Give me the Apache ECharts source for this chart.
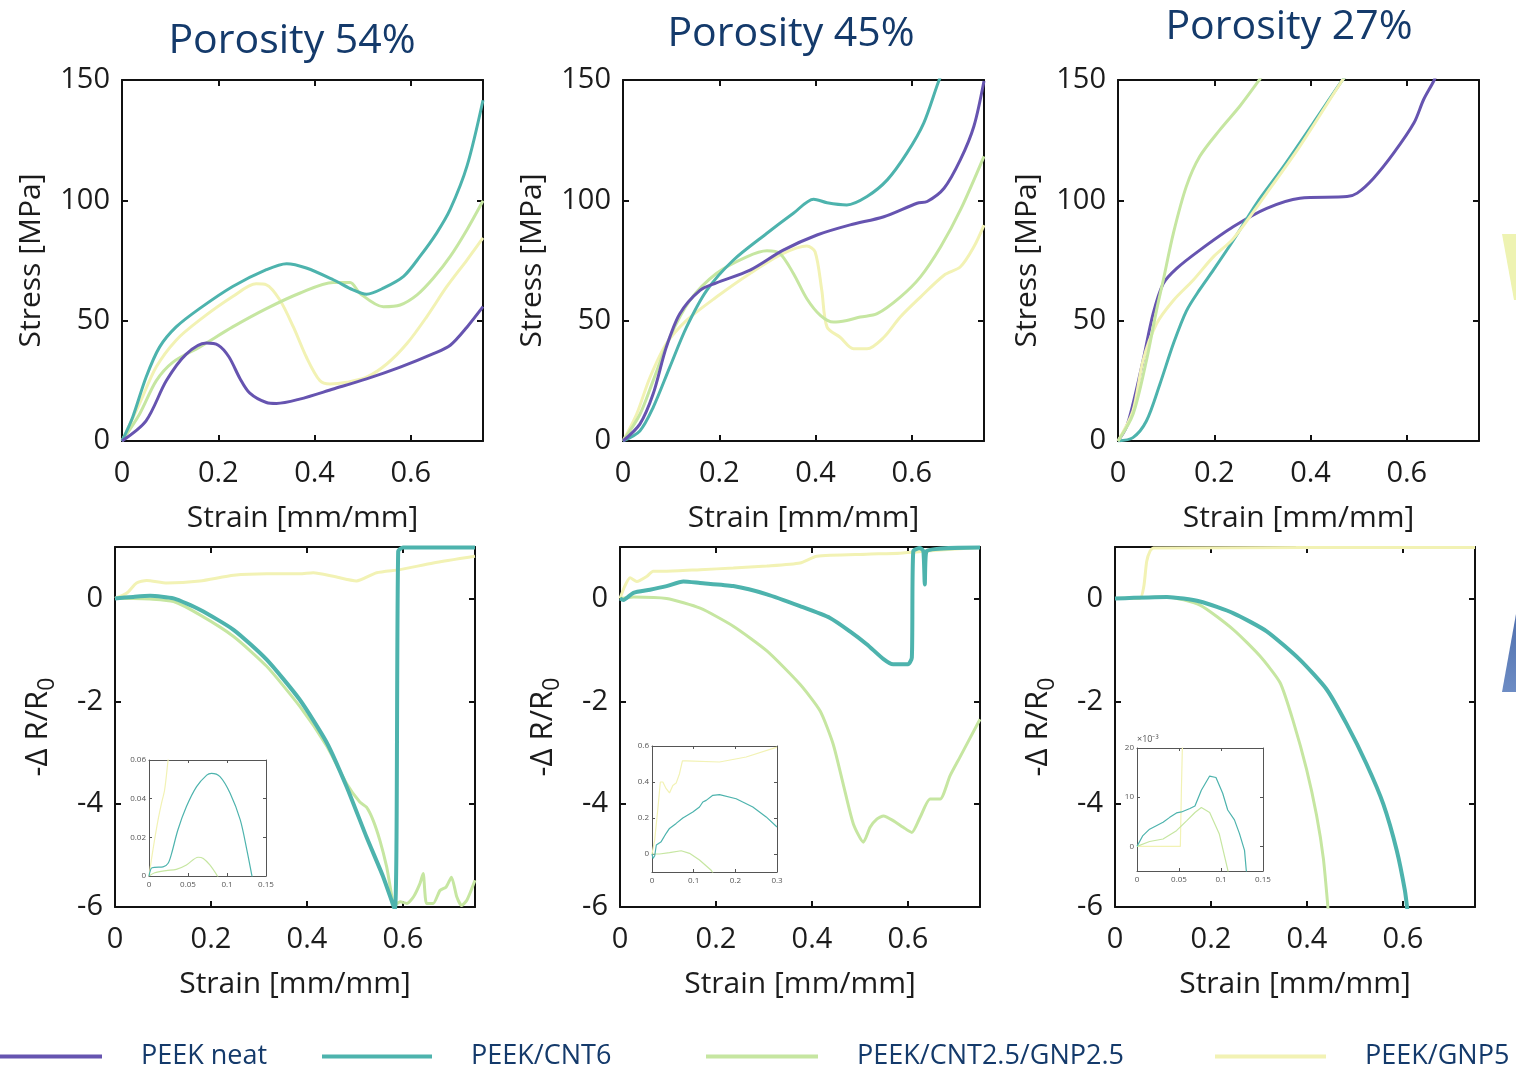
<!DOCTYPE html>
<html>
<head>
<meta charset="utf-8">
<script src="https://cdn.jsdelivr.net/npm/echarts@6/dist/echarts.min.js"></script>
<style>
  html, body { margin: 0; padding: 0; background: #fff; }
  #chart { width: 1516px; height: 1069px; }
</style>
</head>
<body>
<div id="chart"></div>
<script>
// series names
const names = ["PEEK neat", "PEEK/CNT6", "PEEK/CNT2.5/GNP2.5", "PEEK/GNP5"];
const colors = ["#6654b0", "#4db3ad", "#c6e6a1", "#f2f2b4"];
const titles = ["Porosity 54%", "Porosity 45%", "Porosity 27%"];

// stress-strain, porosity 54%  [strain, stress MPa]
const s54Neat = [[0,0],[0.05,8.4],[0.092,25],[0.133,36],[0.175,40.7],[0.2,39.8],[0.222,35],[0.245,26],[0.265,20],[0.3,16],[0.321,15.6],[0.369,17.4],[0.439,21.6],[0.508,25.8],[0.578,30.7],[0.647,36.3],[0.682,39.8],[0.717,47.4],[0.75,55.8]];
const s54Cnt = [[0,0],[0.022,9.8],[0.05,26.5],[0.078,39],[0.1125,47.4],[0.161,55],[0.23,64.2],[0.3,71.2],[0.342,73.7],[0.383,71.9],[0.439,67],[0.48,62.8],[0.508,61],[0.543,63.5],[0.585,68.4],[0.619,76.7],[0.654,86.5],[0.682,96.3],[0.717,114.4],[0.75,141.6]];
const s54Hyb = [[0,0],[0.036,11],[0.071,25],[0.106,32.8],[0.161,39],[0.23,47.4],[0.3,55],[0.369,61.4],[0.439,65.9],[0.474,65.9],[0.494,61.4],[0.543,55.8],[0.578,56.5],[0.613,60.7],[0.647,67.7],[0.682,76.7],[0.717,87.9],[0.75,99.8]];
const s54Gnp = [[0,0],[0.036,15.3],[0.071,30.7],[0.1125,41.9],[0.161,50.2],[0.23,60],[0.279,65.3],[0.3,64.9],[0.328,58.6],[0.356,47.4],[0.383,34.9],[0.411,25.1],[0.432,23.7],[0.467,24.4],[0.508,26.5],[0.55,32],[0.592,40.5],[0.633,51.6],[0.675,64.2],[0.717,75.3],[0.75,84.4]];

// stress-strain, porosity 45%
const s45Neat = [[0,0],[0.035,7],[0.0625,19.5],[0.09,39],[0.118,52.9],[0.16,62.6],[0.194,65.7],[0.264,71],[0.333,79.3],[0.403,85.6],[0.472,89.8],[0.542,93.2],[0.611,98.8],[0.632,99.5],[0.667,105],[0.701,116.9],[0.729,130.8],[0.75,149.6]];
const s45Cnt = [[0,0],[0.035,4.2],[0.0625,13.9],[0.097,30.6],[0.132,47.3],[0.174,62.6],[0.229,75.1],[0.299,86.3],[0.354,94.6],[0.396,100.5],[0.424,99],[0.465,98.1],[0.507,101.6],[0.549,108.5],[0.59,119.7],[0.625,132.2],[0.656,149.6],[0.67,156]];
const s45Hyb = [[0,0],[0.035,11],[0.0625,25],[0.097,43],[0.139,58.4],[0.194,69.6],[0.257,76.5],[0.299,79],[0.326,77.9],[0.354,69.6],[0.382,59.1],[0.41,52.2],[0.4375,49.4],[0.465,50.1],[0.493,51.5],[0.528,52.9],[0.576,59.8],[0.618,68.2],[0.66,80.7],[0.701,96],[0.75,118.3]];
const s45Gnp = [[0,0],[0.028,11],[0.056,26.4],[0.09,40.4],[0.132,50.1],[0.194,59.8],[0.264,69.6],[0.333,77.9],[0.382,81],[0.399,78.6],[0.413,62.6],[0.424,47.3],[0.451,43.1],[0.479,38.3],[0.507,38.3],[0.542,43.1],[0.576,51.5],[0.618,59.8],[0.667,68.9],[0.701,72.4],[0.729,80.7],[0.75,89.7]];

// stress-strain, porosity 27%
const s27Neat = [[0,0],[0.017,5.6],[0.031,15.3],[0.052,33.4],[0.073,52.9],[0.094,65.4],[0.122,71.7],[0.17,79.3],[0.24,89.1],[0.309,96.7],[0.378,100.9],[0.476,101.6],[0.497,103],[0.531,109.2],[0.573,119.7],[0.615,132.2],[0.635,141.9],[0.656,149.6],[0.665,154]];
const s27Cnt = [[0,0],[0.031,1.4],[0.059,8.3],[0.087,23.6],[0.115,40.4],[0.142,54],[0.17,63],[0.198,71],[0.24,83.5],[0.288,98.8],[0.344,114.1],[0.406,132.2],[0.465,149.6],[0.475,152]];
const s27Hyb = [[0,0],[0.031,11],[0.059,33.4],[0.08,54.3],[0.094,66.8],[0.115,86.3],[0.142,105.8],[0.17,118.3],[0.212,129.4],[0.253,139.1],[0.292,149.6],[0.3,152]];
const s27Gnp = [[0,0],[0.031,12.5],[0.052,33.4],[0.08,48.7],[0.115,58.4],[0.156,66.8],[0.198,76.5],[0.24,84.2],[0.309,103],[0.378,122.5],[0.465,149.6],[0.475,152]];

// -dR/R0 vs strain, porosity 54%
const r54Cnt = [[0,0],[0.038,0.03],[0.073,0.05],[0.122,0],[0.177,-0.22],[0.247,-0.61],[0.316,-1.19],[0.385,-1.97],[0.441,-2.8],[0.483,-3.67],[0.524,-4.64],[0.559,-5.42],[0.583,-6.05],[0.59,0.92],[0.6,0.99],[0.75,0.99]];
const r54Hyb = [[0,0],[0.038,0],[0.073,-0.01],[0.122,-0.06],[0.177,-0.32],[0.247,-0.74],[0.316,-1.32],[0.385,-2.1],[0.441,-2.87],[0.483,-3.61],[0.51,-3.96],[0.524,-4.06],[0.538,-4.32],[0.552,-4.71],[0.566,-5.22],[0.583,-5.97],[0.594,-5.9],[0.608,-5.93],[0.622,-5.8],[0.635,-5.55],[0.642,-5.35],[0.649,-5.93],[0.663,-5.93],[0.677,-5.68],[0.69,-5.61],[0.701,-5.42],[0.712,-5.8],[0.722,-5.97],[0.733,-5.87],[0.75,-5.48]];
const r54Gnp = [[0,0],[0.024,0.1],[0.045,0.3],[0.066,0.35],[0.108,0.3],[0.177,0.34],[0.247,0.45],[0.316,0.48],[0.385,0.48],[0.413,0.5],[0.455,0.43],[0.503,0.34],[0.545,0.5],[0.594,0.56],[0.663,0.69],[0.75,0.82]];

// -dR/R0 vs strain, porosity 45%
const r45Cnt = [[0,0],[0.007,-0.03],[0.028,0.11],[0.0625,0.17],[0.097,0.24],[0.132,0.33],[0.167,0.3],[0.236,0.24],[0.306,0.08],[0.375,-0.15],[0.4375,-0.38],[0.479,-0.64],[0.514,-0.89],[0.549,-1.18],[0.569,-1.28],[0.6,-1.28],[0.608,-1.15],[0.611,0.92],[0.625,0.98],[0.632,0.92],[0.635,0.27],[0.639,0.92],[0.75,0.99]];
const r45Hyb = [[0,0],[0.028,0.03],[0.097,0],[0.167,-0.19],[0.236,-0.54],[0.306,-1.02],[0.375,-1.67],[0.417,-2.19],[0.444,-2.83],[0.465,-3.61],[0.486,-4.38],[0.507,-4.74],[0.521,-4.45],[0.535,-4.29],[0.549,-4.23],[0.569,-4.32],[0.59,-4.45],[0.608,-4.55],[0.625,-4.26],[0.646,-3.9],[0.667,-3.9],[0.6875,-3.45],[0.708,-3.09],[0.75,-2.35]];
const r45Gnp = [[0,0],[0.01,0.24],[0.021,0.4],[0.035,0.33],[0.056,0.43],[0.069,0.53],[0.097,0.53],[0.167,0.56],[0.236,0.59],[0.306,0.63],[0.375,0.69],[0.41,0.82],[0.514,0.86],[0.583,0.88],[0.653,0.93],[0.75,0.99]];

// -dR/R0 vs strain, porosity 27%
const r27Cnt = [[0,0],[0.108,0.03],[0.177,-0.06],[0.247,-0.29],[0.316,-0.64],[0.385,-1.19],[0.441,-1.77],[0.483,-2.45],[0.524,-3.22],[0.559,-4.0],[0.587,-4.9],[0.604,-5.68],[0.609,-6.05]];
const r27Hyb = [[0,0],[0.108,0.03],[0.177,-0.13],[0.247,-0.61],[0.302,-1.12],[0.344,-1.64],[0.372,-2.41],[0.399,-3.32],[0.42,-4.22],[0.434,-5.05],[0.444,-6.05]];
const r27Gnp = [[0,0],[0.052,0],[0.06,0.23],[0.066,0.72],[0.073,0.92],[0.08,0.98],[0.75,0.99]];

// insets (early strain zoom)
const i54Cnt = [[0,0],[0.003,0.004],[0.0073,0.0045],[0.018,0.0047],[0.0245,0.0066],[0.029,0.0117],[0.037,0.0238],[0.048,0.0359],[0.061,0.0462],[0.074,0.0522],[0.08,0.0531],[0.091,0.0514],[0.104,0.0428],[0.117,0.029],[0.1255,0.0134],[0.132,0],[0.134,-0.004]];
const i54Hyb = [[0,0],[0.0073,0.0017],[0.022,0.0028],[0.035,0.0034],[0.048,0.0057],[0.063,0.0097],[0.0696,0.0091],[0.078,0.0057],[0.0877,0],[0.09,-0.002]];
const i54Gnp = [[0,0],[0.005,0.0134],[0.0116,0.029],[0.016,0.0376],[0.02,0.0445],[0.0245,0.06],[0.027,0.068]];
const i45Cnt = [[0,0],[0.0024,-0.024],[0.0064,-0.011],[0.0104,0.05],[0.022,0.0685],[0.034,0.115],[0.042,0.142],[0.058,0.17],[0.074,0.2],[0.098,0.233],[0.114,0.261],[0.122,0.289],[0.13,0.298],[0.146,0.326],[0.162,0.33],[0.202,0.307],[0.242,0.261],[0.274,0.206],[0.3,0.15]];
const i45Hyb = [[0,0],[0.018,0],[0.042,0.0074],[0.07,0.018],[0.09,0.0037],[0.114,-0.033],[0.142,-0.09],[0.15,-0.12]];
const i45Gnp = [[0,0],[0.0064,0.077],[0.0144,0.26],[0.02,0.4],[0.026,0.4],[0.034,0.363],[0.042,0.339],[0.05,0.381],[0.058,0.394],[0.066,0.446],[0.073,0.517],[0.082,0.517],[0.162,0.511],[0.226,0.539],[0.3,0.594]];
const i27Cnt = [[0,0],[0.007,2.2],[0.015,3.5],[0.023,4.2],[0.031,4.9],[0.039,5.9],[0.047,6.8],[0.053,7],[0.063,7.7],[0.069,8.2],[0.0766,11.4],[0.0865,14.3],[0.094,14.0],[0.102,10.8],[0.108,7.4],[0.116,5.4],[0.122,2.6],[0.128,-0.8],[0.13,-4.7],[0.131,-6]];
const i27Hyb = [[0,0],[0.015,1],[0.031,1.5],[0.047,3.2],[0.059,5.2],[0.069,6.9],[0.0766,7.9],[0.0865,6.9],[0.098,2.5],[0.108,-4.7],[0.109,-6]];
const i27Gnp = [[0,0],[0.0516,0],[0.0528,11],[0.054,20],[0.0545,24]];

// tick labels
const inset54X = [0, 0.05, 0.1, 0.15];
const inset54Y = [0, 0.02, 0.04, 0.06];
const inset45X = [0, 0.1, 0.2, 0.3];
const inset45Y = [0, 0.2, 0.4, 0.6];
const inset27X = [0, 0.05, 0.1, 0.15];
const inset27Y = [0, 10, 20];

const font = "Open Sans";
const ink = "#1c1c1c";
const navy = "#143a6b";

const grid = [], xAxis = [], yAxis = [], series = [];

// one framed panel: main axes + mirrored top/right axes with inward ticks
function addPanel(rect, xr, yr, o) {
    const gi = grid.length;
    grid.push({ left: rect[0], top: rect[1], width: rect[2], height: rect[3], z: o.z || 2,
        backgroundColor: o.bg || "transparent", show: !!o.bg, borderWidth: 0 });
    const line = { show: true, onZero: false, lineStyle: { color: o.axisColor, width: o.lw } };
    const tick = { show: true, inside: true, length: o.tickLen, lineStyle: { color: o.axisColor, width: o.lw } };
    const xTick = Object.assign({}, tick, o.xTicks ? { customValues: o.xTicks } : {});
    const yTick = Object.assign({}, tick, o.yTicks ? { customValues: o.yTicks } : {});
    const lab = { fontSize: o.fs, color: o.labelColor, fontFamily: font };
    xAxis.push({
        gridIndex: gi, type: "value", position: "bottom", min: xr[0], max: xr[1], interval: xr[2],
        axisLine: line, axisTick: xTick, splitLine: { show: false }, z: o.z || 2,
        axisLabel: Object.assign({ margin: o.xMargin, showMaxLabel: !!o.xMaxLabel,
            customValues: o.xTicks, formatter: (v) => String(+v.toFixed(3)) }, lab),
        name: o.xName, nameLocation: "middle", nameGap: o.xNameGap,
        nameTextStyle: { fontSize: 30, color: ink, fontFamily: font },
    });
    xAxis.push({
        gridIndex: gi, type: "value", position: "top", min: xr[0], max: xr[1], interval: xr[2],
        axisLine: line, axisTick: xTick, axisLabel: { show: false }, splitLine: { show: false }, z: o.z || 2,
    });
    yAxis.push({
        gridIndex: gi, type: "value", position: "left", min: yr[0], max: yr[1], interval: yr[2],
        axisLine: line, axisTick: yTick, splitLine: { show: false }, z: o.z || 2,
        axisLabel: Object.assign({ margin: o.yMargin, showMaxLabel: !!o.yMaxLabel,
            customValues: o.yTicks, formatter: (v) => String(+v.toFixed(3)) }, lab),
        name: o.yName, nameLocation: o.yNameLoc || "middle", nameGap: o.yNameGap,
        nameRotate: o.yNameLoc === "end" ? 0 : 90,
        nameTextStyle: o.yNameStyle || { fontSize: 30, color: ink, fontFamily: font },
    });
    yAxis.push({
        gridIndex: gi, type: "value", position: "right", min: yr[0], max: yr[1], interval: yr[2],
        axisLine: line, axisTick: yTick, axisLabel: { show: false }, splitLine: { show: false }, z: o.z || 2,
    });
    return gi;
}

function addLine(gi, idx, data, width, smooth) {
    series.push({
        type: "line", name: names[idx], data: data,
        xAxisIndex: gi * 2, yAxisIndex: gi * 2,
        showSymbol: false, symbol: "none", smooth: smooth, clip: true,
        color: colors[idx], z: grid[gi].z + 1,
        lineStyle: { color: colors[idx], width: width },
    });
}

const mainOpt = { axisColor: "#111", lw: 2, tickLen: 6, fs: 29, labelColor: ink, xMargin: 18, yMargin: 12 };
const nameR0 = {
    fontSize: 31, color: ink, fontFamily: font,
    rich: { sub: { fontSize: 23, color: ink, fontFamily: font, padding: [18, 0, 0, 0] } },
};

// top row: stress
const topRects = [[122, 80, 361, 361], [623, 80, 361, 361], [1118, 80, 361, 361]];
const stressData = [
    [s54Neat, s54Cnt, s54Hyb, s54Gnp],
    [s45Neat, s45Cnt, s45Hyb, s45Gnp],
    [s27Neat, s27Cnt, s27Hyb, s27Gnp],
];
const stressOrder = [[3, 2, 1, 0], [3, 2, 1, 0], [0, 1, 3, 2]];
topRects.forEach((r, p) => {
    const gi = addPanel(r, [0, 0.75, 0.2], [0, 150, 50], Object.assign({}, mainOpt, {
        yMaxLabel: true, xName: "Strain [mm/mm]", xNameGap: 62, yName: "Stress [MPa]", yNameGap: 76,
    }));
    stressOrder[p].forEach((k) => addLine(gi, k, stressData[p][k], 3, 0.3));
});

// bottom row: resistance change
const botRects = [[115, 547, 360, 360], [620, 547, 360, 360], [1115, 547, 360, 360]];
const resData = [
    [null, r54Cnt, r54Hyb, r54Gnp],
    [null, r45Cnt, r45Hyb, r45Gnp],
    [null, r27Cnt, r27Hyb, r27Gnp],
];
botRects.forEach((r, p) => {
    const gi = addPanel(r, [0, 0.75, 0.2], [-6, 1, 2], Object.assign({}, mainOpt, {
        xName: "Strain [mm/mm]", xNameGap: 62, yName: "-Δ R/R{sub|0}", yNameGap: 56, yNameStyle: nameR0,
    }));
    [3, 2, 1].forEach((k) => addLine(gi, k, resData[p][k], k === 1 ? 4 : 3, 0.2));
});

// insets
const insetOpt = { axisColor: "#555", lw: 1, tickLen: 3, fs: 8, labelColor: "#555", xMargin: 5, yMargin: 3,
    xMaxLabel: true, yMaxLabel: true, bg: "#fff", z: 10 };
const g1 = addPanel([149, 760, 117, 116], [0, 0.15, 0.05], [0, 0.06, 0.02],
    Object.assign({}, insetOpt, { xTicks: inset54X, yTicks: inset54Y }));
[[3, i54Gnp], [2, i54Hyb], [1, i54Cnt]].forEach((d) => addLine(g1, d[0], d[1], 1.2, 0.3));
const g2 = addPanel([652, 746, 125, 126], [0, 0.3, 0.1], [-0.1, 0.6, 0.1],
    Object.assign({}, insetOpt, { xTicks: inset45X, yTicks: inset45Y }));
[[3, i45Gnp], [2, i45Hyb], [1, i45Cnt]].forEach((d) => addLine(g2, d[0], d[1], 1.2, false));
const g3 = addPanel([1137, 748, 126, 123], [0, 0.15, 0.05], [-5, 20, 5],
    Object.assign({}, insetOpt, { xTicks: inset27X, yTicks: inset27Y, yName: "×10⁻³", yNameLoc: "end", yNameGap: 2,
        yNameStyle: { fontSize: 9, color: "#555", fontFamily: font, align: "left", padding: [0, 0, 0, 0] } }));
[[3, i27Gnp], [2, i27Hyb], [1, i27Cnt]].forEach((d) => addLine(g3, d[0], d[1], 1.2, false));

// one legend block per series so the uneven spacing can be kept
const legendLeft = [0, 322, 706, 1215];
const legendLen = [102, 110, 112, 111];
const legend = names.map((n, i) => ({
    data: [n], left: legendLeft[i], top: 1043, padding: 0, icon: "rect",
    itemWidth: legendLen[i], itemHeight: 4, itemGap: 0, selectedMode: false,
    textStyle: { fontSize: 27, color: navy, fontFamily: font, padding: [0, 0, 0, 34] },
}));

const titleX = [292, 791, 1289];
const titleTop = [21, 14, 7];
const title = titles.map((t, i) => ({
    text: t, left: titleX[i], top: titleTop[i], textAlign: "center", padding: 0,
    textStyle: { fontSize: 41, fontWeight: "normal", color: navy, fontFamily: font },
}));

const myChart = echarts.init(document.getElementById("chart"), null, { renderer: "canvas" });
myChart.setOption({
    animation: false,
    backgroundColor: "#fff",
    title, legend, grid, xAxis, yAxis, series,
    // cropped slide decorations at the right edge
    graphic: [
        { type: "polygon", shape: { points: [[1502, 234], [1516, 234], [1516, 300], [1514, 300]] },
          style: { fill: "#eef3b2" }, silent: true },
        { type: "polygon", shape: { points: [[1502, 692], [1516, 692], [1516, 614]] },
          style: { fill: new echarts.graphic.LinearGradient(0, 0, 0, 1, [{ offset: 0, color: "#4f6fae" }, { offset: 1, color: "#6d8cc4" }]) }, silent: true },
    ],
});
window.addEventListener("resize", () => myChart.resize());
</script>
</body>
</html>
